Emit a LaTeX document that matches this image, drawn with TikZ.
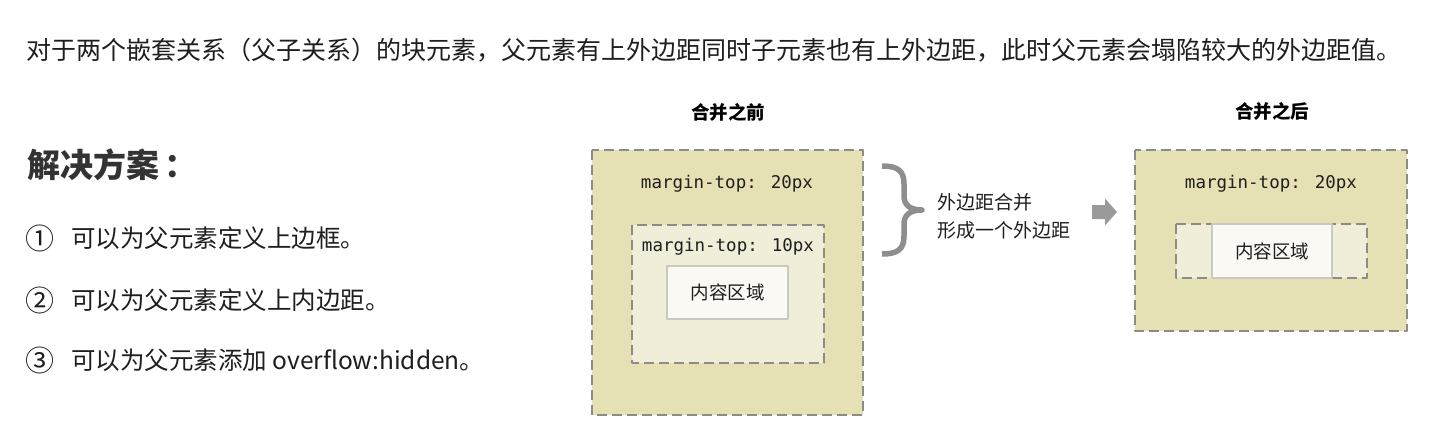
\documentclass[tikz,border=0pt]{standalone}
\usepackage{fontspec}
\usetikzlibrary{calc}
\setmainfont{Noto Sans CJK SC}
\newfontfamily\pxmono{DejaVu Sans Mono}
\definecolor{outerfill}{HTML}{E6E1B4}
\definecolor{innerfill}{HTML}{F0EDD9}
\definecolor{cfill}{HTML}{FAF9F3}
\definecolor{cline}{HTML}{C9C9C2}
\definecolor{dashgray}{HTML}{8C8C86}
\definecolor{bracegray}{HTML}{8E8E8E}
\definecolor{arrowgray}{HTML}{9A9A9A}
\definecolor{txt}{HTML}{1E1E1E}
\definecolor{head}{HTML}{333333}
\tikzset{
	marginbox/.style={draw=dashgray,line width=2pt,dash pattern=on 10pt off 5pt},
	contentbox/.style={draw=cline,line width=1.2pt,fill=cfill},
	marginlabel/.style={inner sep=0,text=txt,font=\pxmono\fontsize{17.5}{20}\selectfont},
	cnlabel/.style={inner sep=0,text=txt,font=\fontsize{18.5}{22}\selectfont},
	boxtitle/.style={inner sep=0,text=black,font=\bfseries\fontsize{18.5}{22}\selectfont},
}
\begin{document}
\begin{tikzpicture}[x=1pt,y=-1pt,line join=round]
		\useasboundingbox (0,0) rectangle (1453,439);
		%Câu dẫn và giải pháp
		\node[anchor=west,inner sep=0,text=txt,font=\fontsize{25}{30}\selectfont] (intro) at (26,50) {对于两个嵌套关系（父子关系）的块元素，父元素有上外边距同时子元素也有上外边距，此时父元素会塌陷较大的外边距值。};
		\node[anchor=west,inner sep=0,text=head,font=\bfseries\fontsize{33}{38}\selectfont] (plan) at (27,165) {解决方案\hspace{5pt}：};
		\foreach \n/\y/\t in {①/238/可以为父元素定义上边框。,②/300/可以为父元素定义上内边距。,③/360/可以为父元素添加 overflow:hidden。}{
		\node[anchor=west,inner sep=0,text=txt,font=\fontsize{29}{32}\selectfont] (num\y) at (25,\y) {\n};
		\node[anchor=west,inner sep=0,text=txt,font=\fontsize{24.5}{28}\selectfont] (item\y) at (71,\y) {\t};}
		%Trước khi gộp
		\path (592,150) coordinate (B1) (863,415) coordinate (B2)
		(632,225) coordinate (C1) (824,363) coordinate (C2)
		(667,266) coordinate (D1) (788,319) coordinate (D2);
		\draw[marginbox,fill=outerfill] (B1) rectangle (B2);
		\draw[marginbox,fill=innerfill] (C1) rectangle (C2);
		\draw[contentbox] (D1) rectangle (D2);
		\node[boxtitle] (tBefore) at (728,112) {合并之前};
		\node[marginlabel] (mBefore) at (727,184) {margin-top: 20px};
		\node[marginlabel] (mInner) at (728,247) {margin-top: 10px};
		\node[cnlabel] (cBefore) at ($(D1)!.5!(D2)$) {内容区域};
		%Ngoặc và mũi tên
		\path (882,166) coordinate (brTop) (922,210) coordinate (brTip) (882,254) coordinate (brBot);
		\draw[bracegray,line width=5.5pt] (brTop) .. controls (898,166) and (904,171) .. (904,184) -- (904,196)
		.. controls (904,205) and (910,210) .. (brTip) .. controls (910,210) and (904,215) .. (904,224)
		-- (904,236) .. controls (904,249) and (898,254) .. (brBot);
		\node[anchor=west,inner sep=0,align=left,text=txt,font=\fontsize{19}{28}\selectfont] (merge) at (937,216) {外边距合并\\形成一个外边距};
		\path (1092,212) coordinate (arS) (1117,212) coordinate (arE);
		\fill[arrowgray] (arS) ++(0,-7) -- ++(13,0) -- ++(0,-6.5) -- (arE) -- ++(-12,13.5) -- ++(0,-6.5) -- ++(-13,0) -- cycle;
		%Sau khi gộp
		\path (1135,150) coordinate (E1) (1407,331) coordinate (E2)
		(1176,224) coordinate (F1) (1367,278) coordinate (F2)
		(1212,224) coordinate (G1) (1332,278) coordinate (G2);
		\draw[marginbox,fill=outerfill] (E1) rectangle (E2);
		\draw[marginbox,fill=innerfill] (F1) rectangle (F2);
		\draw[contentbox] (G1) rectangle (G2);
		\node[boxtitle] (tAfter) at (1272,111) {合并之后};
		\node[marginlabel] (mAfter) at (1271,184) {margin-top: 20px};
		\node[cnlabel] (cAfter) at ($(G1)!.5!(G2)$) {内容区域};
\end{tikzpicture}
\end{document}
